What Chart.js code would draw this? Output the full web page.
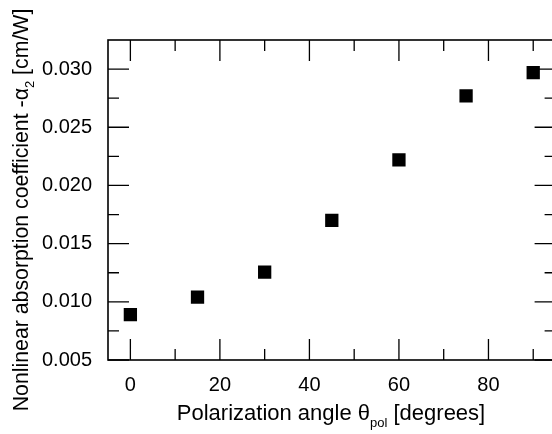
<!DOCTYPE html>
<html>
<head>
<meta charset="utf-8">
<script src="https://cdn.jsdelivr.net/npm/chart.js@4.4.1/dist/chart.umd.min.js"></script>
<style>
  html, body { margin: 0; padding: 0; background: #fff; overflow: hidden; }
  canvas { display: block; }
</style>
</head>
<body>
<canvas id="alphaChart" width="565" height="434"></canvas>
<script>
// polarization angle (degrees) vs -alpha2 (cm/W)
const angles = [0, 15, 30, 45, 60, 75, 90];
const alpha2 = [0.0089, 0.0104, 0.01255, 0.0170, 0.0222, 0.0277, 0.0297];

const xMajorTicks = [0, 20, 40, 60, 80];
const xMinorTicks = [10, 30, 50, 70, 90];
const yMajorTicks = [0.005, 0.010, 0.015, 0.020, 0.025, 0.030];
const yMinorTicks = [0.0075, 0.0125, 0.0175, 0.0225, 0.0275];

const FONT = '"Liberation Sans", Arial, Helvetica, sans-serif';

// draw "main" + subscript pieces centred on x
function drawRich(ctx, parts, x, y, size, subSize, subDrop) {
  const fontFor = p => (p.sub ? subSize : size) + 'px ' + FONT;
  let total = 0;
  parts.forEach(p => { ctx.font = fontFor(p); total += ctx.measureText(p.t).width; });
  let cx = x - total / 2;
  ctx.textAlign = 'left';
  ctx.textBaseline = 'alphabetic';
  parts.forEach(p => {
    ctx.font = fontFor(p);
    ctx.fillText(p.t, cx, p.sub ? y + subDrop : y);
    cx += ctx.measureText(p.t).width;
  });
}

// box frame with inward major/minor ticks on all four sides
const frameTicks = {
  id: 'frameTicks',
  afterDatasetsDraw(chart) {
    const { ctx, chartArea: a, scales: { x, y } } = chart;
    ctx.save();
    ctx.strokeStyle = '#000';
    ctx.lineWidth = 1.3;
    ctx.beginPath();
    const xTick = (v, len) => {
      const px = x.getPixelForValue(v);
      ctx.moveTo(px, a.bottom); ctx.lineTo(px, a.bottom - len);
      ctx.moveTo(px, a.top); ctx.lineTo(px, a.top + len);
    };
    const yTick = (v, len) => {
      const py = y.getPixelForValue(v);
      ctx.moveTo(a.left, py); ctx.lineTo(a.left + len, py);
      ctx.moveTo(a.right, py); ctx.lineTo(a.right - len, py);
    };
    xMajorTicks.forEach(v => xTick(v, 21));
    xMinorTicks.forEach(v => xTick(v, 11));
    yMajorTicks.forEach(v => yTick(v, 21));
    yMinorTicks.forEach(v => yTick(v, 11));
    ctx.stroke();
    ctx.lineWidth = 1.6;
    ctx.strokeRect(a.left, a.top, a.right - a.left, a.bottom - a.top);
    ctx.restore();
  }
};

// axis titles with subscripts
const axisTitles = {
  id: 'axisTitles',
  afterDraw(chart) {
    const { ctx } = chart;
    ctx.save();
    ctx.fillStyle = '#000';
    drawRich(ctx, [
      { t: 'Polarization angle \u03B8' },
      { t: 'pol', sub: true },
      { t: ' [degrees]' }
    ], 331, 419.5, 22, 13, 7);
    ctx.translate(28, 210);
    ctx.rotate(-Math.PI / 2);
    drawRich(ctx, [
      { t: 'Nonlinear absorption coefficient -\u03B1' },
      { t: '2', sub: true },
      { t: ' [cm/W]' }
    ], 0, 0, 21.3, 13, 6);
    ctx.restore();
  }
};

new Chart(document.getElementById('alphaChart'), {
  type: 'scatter',
  data: {
    datasets: [{
      data: angles.map((a, i) => ({ x: a, y: alpha2[i] })),
      pointStyle: 'rect',
      pointRadius: 9.4,
      pointBorderWidth: 0,
      backgroundColor: '#000',
      borderColor: '#000'
    }]
  },
  options: {
    responsive: false,
    animation: false,
    devicePixelRatio: 1,
    layout: { padding: { top: 40, right: 0, left: 0, bottom: 0 } },
    plugins: { legend: { display: false }, tooltip: { enabled: false } },
    scales: {
      x: {
        type: 'linear',
        min: -5,
        max: 95,
        grid: { display: false, drawTicks: false },
        border: { display: false },
        afterBuildTicks: s => { s.ticks = xMajorTicks.map(v => ({ value: v })); },
        afterFit: s => { s.height = 74; },
        ticks: {
          padding: 13,
          maxRotation: 0,
          color: '#000',
          font: { family: FONT, size: 20 },
          callback: v => String(v)
        }
      },
      y: {
        type: 'linear',
        min: 0.005,
        max: 0.0325,
        grid: { display: false, drawTicks: false },
        border: { display: false },
        afterBuildTicks: s => { s.ticks = yMajorTicks.map(v => ({ value: v })); },
        afterFit: s => { s.width = 108; },
        ticks: {
          padding: 16,
          color: '#000',
          font: { family: FONT, size: 20 },
          callback: v => v.toFixed(3)
        }
      }
    }
  },
  plugins: [frameTicks, axisTitles]
});
</script>
</body>
</html>
